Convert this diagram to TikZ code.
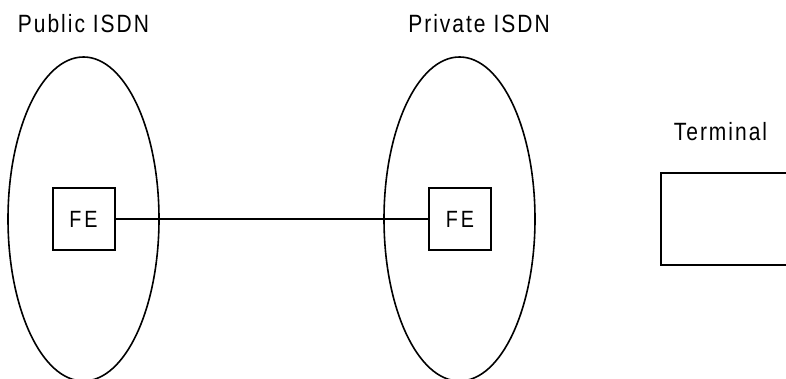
\documentclass[tikz,border=0pt]{standalone}
\usepackage{fontspec}
\setmainfont{Liberation Sans}
\newfontfamily\narrowsans[FakeStretch=0.84,LetterSpace=8]{Liberation Sans}
\usetikzlibrary{shapes.geometric}
\begin{document}
\begin{tikzpicture}[x=1pt,y=-1pt,
  net/.style={draw,ellipse,line width=1.6pt,minimum width=151pt,minimum height=324pt,inner sep=0pt},
  febox/.style={draw,line width=2pt,minimum width=62pt,minimum height=61pt,inner sep=0pt,font=\narrowsans\fontsize{23.5}{26}\selectfont},
  termbox/.style={draw,line width=2.2pt,minimum width=150pt,minimum height=92pt,inner sep=0pt},
  lbl/.style={anchor=base,inner sep=0pt,font=\narrowsans\fontsize{25}{28}\selectfont},
  link/.style={line width=2.8pt}]
\useasboundingbox (0,0) rectangle (786,379);
% networks
\node[net] (pub) at (83.5,219) {};
\node[net] (priv) at (459.5,219) {};
% functional entities
\node[febox] (fe1) at (83.5,219) {F\kern3pt E};
\node[febox] (fe2) at (460,219) {F\kern3pt E};
% terminal
\node[termbox,anchor=west] (term) at (660,219) {};
% labels
\node[lbl] (publbl) at (83.5,32.5) {Public ISDN};
\node[lbl] (privlbl) at (479,32.5) {Private ISDN};
\node[lbl] (termlbl) at (720.5,141) {Terminal};
% connection between the two FEs
\draw[link] (fe1.east) -- (fe2.west);
\end{tikzpicture}
\end{document}
